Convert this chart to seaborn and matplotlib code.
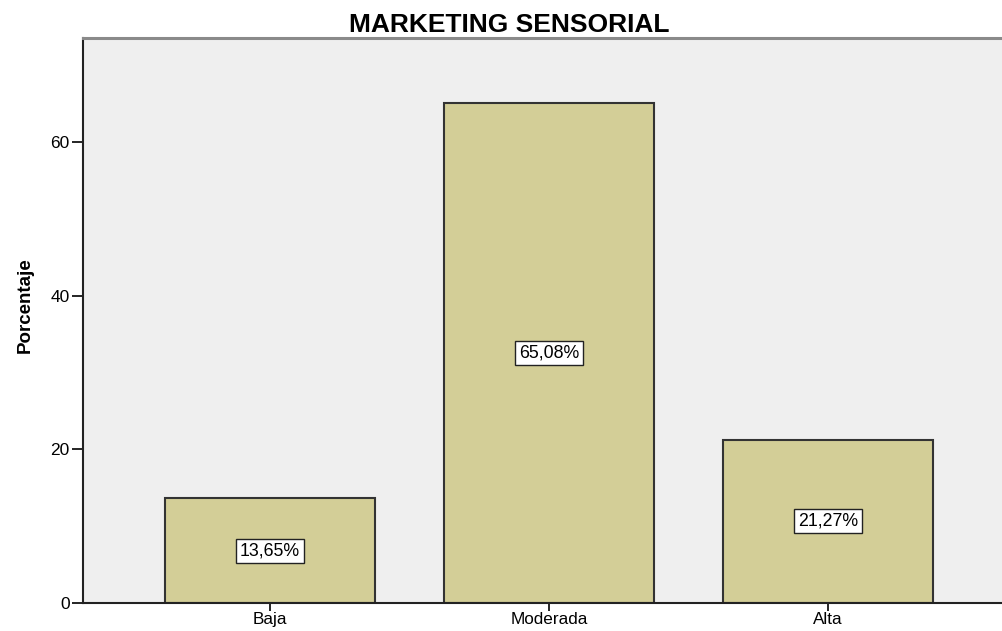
import matplotlib
matplotlib.use("Agg")
import matplotlib.pyplot as plt
import seaborn as sns
import pandas as pd

categories = ["Baja", "Moderada", "Alta"]
percentages = [13.65, 65.08, 21.27]
y_ticks = [0, 20, 40, 60]
title = "MARKETING SENSORIAL"
y_label = "Porcentaje"

sns.set_theme(style="white")
plt.rcParams["font.family"] = ["Liberation Sans", "DejaVu Sans"]

df = pd.DataFrame({"nivel": categories, "porcentaje": percentages})

fig = plt.figure(figsize=(10.03, 6.31), dpi=100)
ax = fig.add_axes([83 / 1003, 28 / 631, 920 / 1003, 565.5 / 631])
ax.set_facecolor("#EFEFEF")

sns.barplot(data=df, x="nivel", y="porcentaje", order=categories,
            color="#D3CE97", saturation=1, width=0.75,
            edgecolor="#333333", linewidth=1.5, ax=ax)

for i, v in enumerate(percentages):
    label = f"{v:.2f}%".replace(".", ",")
    ax.text(i, v / 2, label, ha="center", va="center", fontsize=12.8,
            color="black",
            bbox=dict(boxstyle="square,pad=0.2", fc="white", ec="#222222", lw=1.0))

ax.set_xlim(-0.670, 2.627)
ax.set_ylim(0, 73.6)
ax.set_yticks(y_ticks)
ax.set_yticklabels([str(t) for t in y_ticks])

ax.tick_params(axis="y", direction="out", length=8, width=1.2, pad=1.5,
               labelsize=12.5, colors="black", left=True)
ax.tick_params(axis="x", direction="out", length=6, width=1.2, pad=0.5,
               labelsize=12.3, colors="black", bottom=True)

for side in ["left", "bottom"]:
    ax.spines[side].set_color("#222222")
    ax.spines[side].set_linewidth(1.5)
ax.spines["top"].set_color("#8A8A8A")
ax.spines["top"].set_linewidth(2.2)
ax.spines["right"].set_visible(False)

ax.set_xlabel("")
ax.set_ylabel(y_label, fontsize=13.5, fontweight="bold", color="black")
ax.yaxis.set_label_coords(-0.053, 0.527)
ax.set_title(title, fontsize=19, fontweight="bold", color="black",
             x=(509 - 83) / 920, pad=4)

fig.savefig("out.png", dpi=100)
